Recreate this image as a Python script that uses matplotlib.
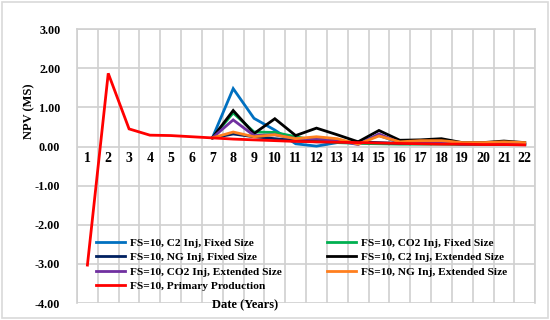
import matplotlib
matplotlib.use('Agg')
import matplotlib.pyplot as plt
import matplotlib.patches as mpatches
import numpy as np

years = list(range(1, 23))
later = list(range(7, 23))

primary = [-3.03, 1.87, 0.45, 0.29, 0.28, 0.25, 0.22, 0.19, 0.17, 0.15, 0.13,
           0.12, 0.11, 0.10, 0.09, 0.08, 0.07, 0.06, 0.06, 0.05, 0.05, 0.04]
c2_fixed = [0.22, 1.48, 0.72, 0.42, 0.07, 0.01, 0.10, 0.12, 0.28, 0.10, 0.10,
            0.10, 0.06, 0.05, 0.06, 0.05]
co2_fixed = [0.22, 0.86, 0.37, 0.36, 0.25, 0.15, 0.10, 0.08, 0.07, 0.06, 0.06,
             0.06, 0.05, 0.05, 0.05, 0.05]
ng_fixed = [0.22, 0.32, 0.25, 0.20, 0.15, 0.12, 0.12, 0.12, 0.10, 0.08, 0.08,
            0.08, 0.07, 0.07, 0.06, 0.06]
c2_ext = [0.22, 0.92, 0.33, 0.71, 0.28, 0.47, 0.30, 0.12, 0.41, 0.16, 0.17,
          0.20, 0.10, 0.10, 0.14, 0.10]
co2_ext = [0.22, 0.68, 0.28, 0.30, 0.20, 0.20, 0.15, 0.05, 0.32, 0.10, 0.10,
           0.10, 0.06, 0.07, 0.08, 0.07]
ng_ext = [0.22, 0.37, 0.25, 0.30, 0.20, 0.25, 0.20, 0.06, 0.27, 0.12, 0.15,
          0.15, 0.10, 0.10, 0.12, 0.10]

series = [
    ('FS=10, C2 Inj, Fixed Size', later, c2_fixed, '#0070C0'),
    ('FS=10, CO2 Inj, Fixed Size', later, co2_fixed, '#00B050'),
    ('FS=10, NG Inj, Fixed Size', later, ng_fixed, '#002060'),
    ('FS=10, C2 Inj, Extended Size', later, c2_ext, '#000000'),
    ('FS=10, CO2 Inj, Extended Size', later, co2_ext, '#7030A0'),
    ('FS=10, NG Inj, Extended Size', later, ng_ext, '#FF7F1E'),
    ('FS=10, Primary Production', years, primary, '#FF0000'),
]

plt.rcParams['font.family'] = ['Liberation Serif', 'DejaVu Serif']
plt.rcParams['font.weight'] = 'bold'

fig = plt.figure(figsize=(5.5, 3.2), dpi=100, facecolor='white')
ax = fig.add_axes([0.14, 0.053, 0.833, 0.856])

handles = []
for label, xs, ys, color in series:
    h, = ax.plot(xs, ys, color=color, linewidth=2.0, label=label,
                 solid_joinstyle='miter', zorder=3)
    handles.append(h)

ax.set_xlim(0.5, 22.5)
ax.set_ylim(-4, 3)
ax.set_yticks(np.arange(-4, 3.01, 1))
ax.set_yticklabels([f'{v:.2f}' for v in np.arange(-4, 3.01, 1)], fontsize=8.7,
                   fontweight='bold')
ax.set_xticks(years)
ax.set_xticklabels([str(y) for y in years], fontsize=8.7, fontweight='bold')
ax.set_xticks(np.arange(0.5, 22.6, 1), minor=True)
ax.spines['bottom'].set_position(('data', 0))
ax.tick_params(axis='both', which='both', length=0)
ax.tick_params(axis='x', pad=4)
ax.tick_params(axis='y', pad=12)
ax.grid(True, which='minor', axis='x', color='#d0d0d0', linewidth=1.2, zorder=0)
ax.grid(True, which='major', axis='y', color='#d0d0d0', linewidth=1.2, zorder=0)
ax.set_axisbelow(True)
for s in ax.spines.values():
    s.set_color('#d0d0d0')
    s.set_linewidth(1.2)
ax.spines['bottom'].set_visible(False)

ax.set_ylabel('NPV (MS)', fontsize=9, fontweight='bold')
ax.yaxis.set_label_coords(-0.092, 0.70)
fig.text(0.445, 0.047, 'Date (Years)', ha='center', va='center', fontsize=9,
         fontweight='bold')

# row-first order like the original legend
order = [0, 2, 4, 6, 1, 3, 5]
ax.legend([handles[i] for i in order], [series[i][0] for i in order],
          loc='lower left', bbox_to_anchor=(0.0415, 0.044), ncol=2,
          frameon=False, fontsize=8.2, handlelength=2.55, handletextpad=0.45,
          labelspacing=0.38, columnspacing=3.95, borderpad=0, borderaxespad=0)

fig.patches.append(mpatches.Rectangle((0.004, 0.006), 0.992, 0.988,
                                      transform=fig.transFigure, fill=False,
                                      edgecolor='#d9d9d9', linewidth=1.2))

fig.savefig('out.png', dpi=100, facecolor='white')
